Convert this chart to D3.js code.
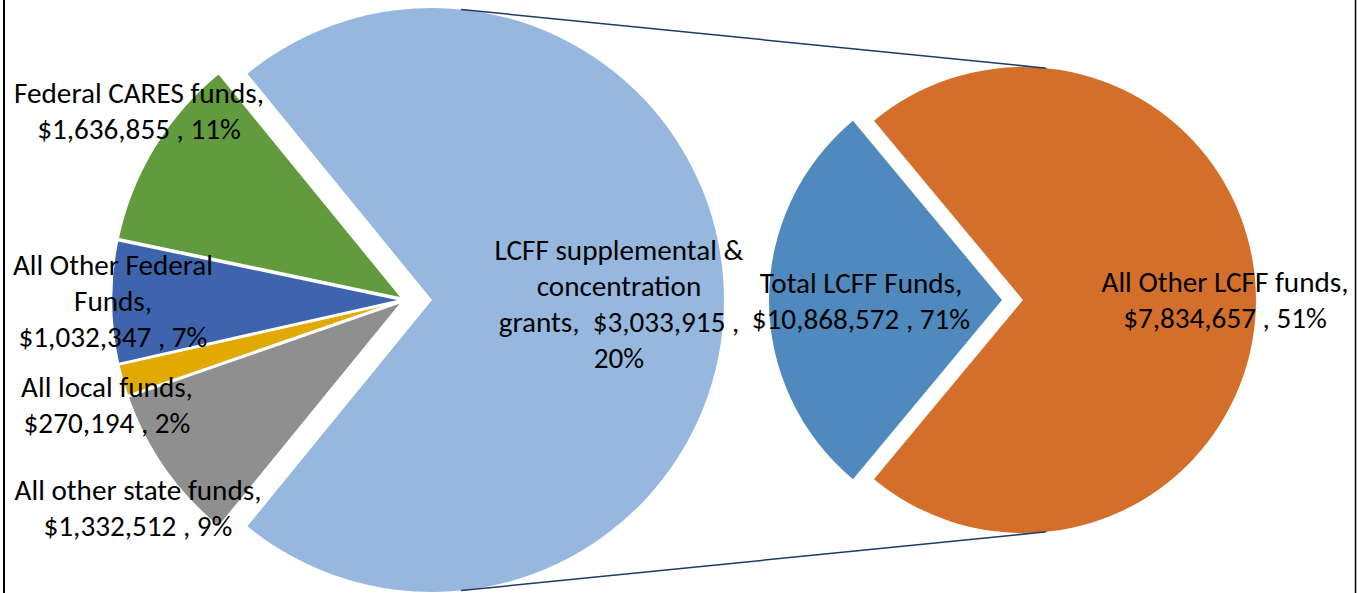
<!DOCTYPE html>
<html>
<head>
<meta charset="utf-8">
<script src="https://cdn.jsdelivr.net/npm/d3@7"></script>
<style>
  body { margin: 0; background: #fff; }
  svg { display: block; }
</style>
</head>
<body>
<script>
// first pie: the combined LCFF slice, then the other sources clockwise
const leftNames = ["LCFF (combined)", "All other state funds", "All local funds", "All Other Federal Funds", "Federal CARES funds"];
const leftValues = [10868572, 1332512, 270194, 1032347, 1636855];
const leftColors = ["#96b8df", "#8f8f8f", "#e2aa00", "#3e64ad", "#629b3e"];

// second pie: breakdown of the LCFF slice
const rightNames = ["LCFF supplemental & concentration grants", "All Other LCFF funds"];
const rightValues = [3033915, 7834657];
const rightColors = ["#4f89bd", "#d36f2b"];

// label text as printed on the chart
const labelLines = [
  ["Federal CARES funds,", "$1,636,855 , 11%"],
  ["All Other Federal", "Funds,", "$1,032,347 , 7%"],
  ["All local funds,", "$270,194 , 2%"],
  ["All other state funds,", "$1,332,512 , 9%"],
  ["LCFF supplemental &", "concentration", "grants,  $3,033,915 ,", "20%"],
  ["Total LCFF Funds,", "$10,868,572 , 71%"],
  ["All Other LCFF funds,", "$7,834,657 , 51%"]
];
// label anchor (centre x, first baseline y)
const labelPos = [[139, 103], [113, 275], [107, 397], [138, 500], [619, 260], [861, 293], [1225, 292]];

const W = 1358, H = 593;
const svg = d3.select("body").append("svg").attr("width", W).attr("height", H);

// layout
const left = {cx: 405, cy: 300, r: 292, explode: [27, 2, 2, 2, 2]};
const right = {cx: 1012.5, cy: 300, r: 233, explode: [10.5, 10.5]};

function offset(a, dist) {
  const mid = (a.startAngle + a.endAngle) / 2;
  return [Math.sin(mid) * dist, -Math.cos(mid) * dist];
}

//Left pie
const bigFrac = leftValues[0] / d3.sum(leftValues);
const leftStart = Math.PI / 2 - bigFrac * Math.PI;
const leftArcs = d3.pie().sort(null)
  .startAngle(leftStart).endAngle(leftStart + 2 * Math.PI)(leftValues);
const arcL = d3.arc().innerRadius(0).outerRadius(left.r);

svg.append("g")
  .attr("transform", `translate(${left.cx},${left.cy})`)
  .selectAll("path")
  .data(leftArcs)
  .enter().append("path")
  .attr("d", arcL)
  .attr("transform", (d, i) => `translate(${offset(d, left.explode[i])})`)
  .attr("fill", (d, i) => leftColors[i])
  .attr("stroke", (d, i) => i === 0 ? "none" : "#fff")
  .attr("stroke-width", 2.5);

//Right pie
const blueFrac = rightValues[0] / d3.sum(rightValues);
const rightStart = 3 * Math.PI / 2 - blueFrac * Math.PI;
const rightArcs = d3.pie().sort(null)
  .startAngle(rightStart).endAngle(rightStart + 2 * Math.PI)(rightValues);
const arcR = d3.arc().innerRadius(0).outerRadius(right.r);

svg.append("g")
  .attr("transform", `translate(${right.cx},${right.cy})`)
  .selectAll("path")
  .data(rightArcs)
  .enter().append("path")
  .attr("d", arcR)
  .attr("transform", (d, i) => `translate(${offset(d, right.explode[i])})`)
  .attr("fill", (d, i) => rightColors[i]);

//Connector lines: outer tangents between the big slice and the orange slice
const c1 = [left.cx + offset(leftArcs[0], left.explode[0])[0], left.cy + offset(leftArcs[0], left.explode[0])[1]];
const c2 = [right.cx + offset(rightArcs[1], right.explode[1])[0], right.cy + offset(rightArcs[1], right.explode[1])[1]];
const dist = c2[0] - c1[0];
const alpha = Math.asin((left.r - right.r) / dist);
[-1, 1].forEach(s => {
  svg.append("line")
    .attr("x1", c1[0] + left.r * Math.sin(alpha))
    .attr("y1", c1[1] + s * left.r * Math.cos(alpha))
    .attr("x2", c2[0] + right.r * Math.sin(alpha))
    .attr("y2", c2[1] + s * right.r * Math.cos(alpha))
    .attr("stroke", "#1f3864")
    .attr("stroke-width", 1.5);
});

//Frame
svg.append("line").attr("x1", 4).attr("x2", 4).attr("y1", 0).attr("y2", H)
  .attr("stroke", "#000").attr("stroke-width", 2);
svg.append("line").attr("x1", 1355.5).attr("x2", 1355.5).attr("y1", 0).attr("y2", H)
  .attr("stroke", "#000").attr("stroke-width", 1.5);

//Labels - fit font size so the first label matches its width in the original
const fontFamily = "Carlito, Calibri, Lato, 'Open Sans', sans-serif";
const probe = svg.append("text").attr("font-family", fontFamily).attr("font-size", 26)
  .text(labelLines[0][0]);
const fontSize = 26 * 250 / probe.node().getComputedTextLength();
probe.remove();

const labels = svg.append("g")
  .attr("font-family", fontFamily)
  .attr("font-size", fontSize)
  .attr("fill", "#000")
  .attr("text-anchor", "middle");

labels.selectAll("text")
  .data(labelLines)
  .enter().append("text")
  .attr("x", (d, i) => labelPos[i][0])
  .attr("y", (d, i) => labelPos[i][1])
  .each(function(lines, i) {
    d3.select(this).selectAll("tspan")
      .data(lines)
      .enter().append("tspan")
      .attr("x", labelPos[i][0])
      .attr("y", (l, j) => labelPos[i][1] + j * 36)
      .style("white-space", "pre")
      .text(l => l);
  });
</script>
</body>
</html>
